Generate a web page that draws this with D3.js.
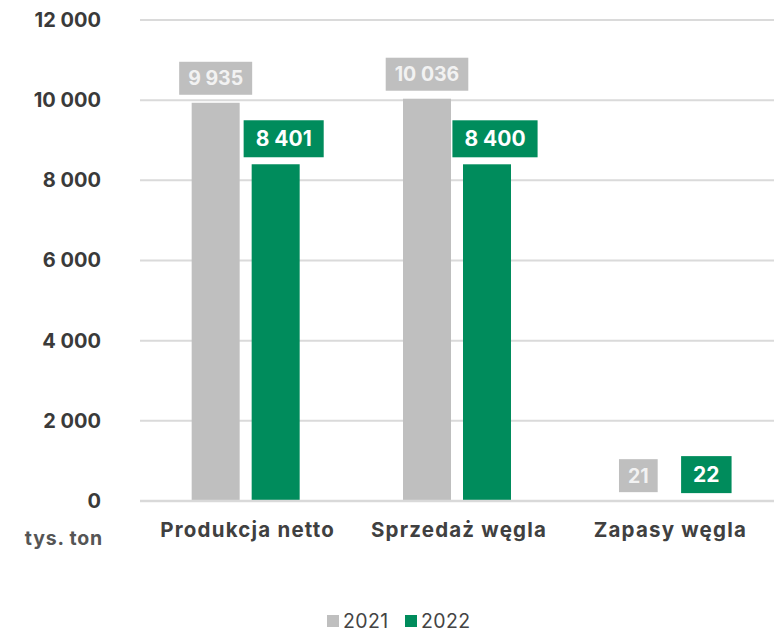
<!DOCTYPE html>
<html>
<head>
<meta charset="utf-8">
<script src="https://cdn.jsdelivr.net/npm/d3@7"></script>
<style>
  html, body { margin: 0; padding: 0; background: #fff; }
  svg { display: block; font-family: Inter, "Open Sans", sans-serif; }
</style>
</head>
<body>
<svg id="chart" width="774" height="633"></svg>
<script>
// Data (thousand tonnes)
const categories = ["Produkcja netto", "Sprzedaż węgla", "Zapasy węgla"];
const seriesNames = ["2021", "2022"];
const values2021 = [9935, 10036, 21];
const values2022 = [8401, 8400, 22];
const yTicks = [0, 2000, 4000, 6000, 8000, 10000, 12000];
const unitLabel = "tys. ton";

const colors = { "2021": "#bfbfbf", "2022": "#008c5c" };
const fmt = v => d3.format(",")(v).replace(/,/g, " ");
const FONT = "Inter, sans-serif";

const svg = d3.select("#chart");
const plot = { left: 140, right: 774, top: 20, bottom: 501 };

const y = d3.scaleLinear().domain([0, 12000]).range([plot.bottom, plot.top]);
const x0 = d3.scaleBand().domain(categories).range([plot.left, plot.right]).padding(0);
const x1 = d3.scaleBand().domain(seriesNames).range([x0.bandwidth() / 2 - 54, x0.bandwidth() / 2 + 54]).paddingInner(0.2);

// Gridlines (the baseline is drawn later, over the bars)
svg.append("g").selectAll("line")
  .data(yTicks.filter(d => d !== 0))
  .join("line")
  .attr("x1", plot.left).attr("x2", plot.right)
  .attr("y1", d => y(d)).attr("y2", d => y(d))
  .attr("stroke", "#dadada").attr("stroke-width", 2);

// Y axis labels
const yAxis = d3.axisLeft(y).tickValues(yTicks).tickFormat(fmt).tickSize(0).tickPadding(0);
const yg = svg.append("g").attr("transform", "translate(101,0)").call(yAxis);
yg.select(".domain").remove();
yg.selectAll("text")
  .attr("font-size", 20).attr("font-weight", 700).attr("fill", "#3a3a3a")
  .attr("font-family", FONT);

// Unit label
svg.append("text")
  .attr("x", 103).attr("y", 545).attr("text-anchor", "end")
  .attr("font-size", 19.5).attr("font-weight", 700).attr("fill", "#555")
  .attr("letter-spacing", 0.8)
  .text(unitLabel);

// Bars
const rows = categories.map((c, i) => ({ cat: c, vals: [
  { s: "2021", v: values2021[i] },
  { s: "2022", v: values2022[i] }
]}));

const groups = svg.append("g").selectAll("g")
  .data(rows).join("g")
  .attr("transform", d => `translate(${x0(d.cat)},0)`);

groups.selectAll("rect.bar")
  .data(d => d.vals).join("rect")
  .attr("class", "bar")
  .attr("x", d => x1(d.s))
  .attr("width", x1.bandwidth())
  .attr("y", d => y(d.v))
  .attr("height", d => y(0) - y(d.v))
  .attr("fill", d => colors[d.s]);

// Baseline
svg.append("line")
  .attr("x1", plot.left).attr("x2", plot.right)
  .attr("y1", y(0)).attr("y2", y(0))
  .attr("stroke", "#d9d9d9").attr("stroke-width", 2.5);

// Value labels in boxes
const labelOffset = { "2021": 0, "2022": 8 };
const labelStyle = {
  "2021": { size: 19.5, pad: 9, h: 33, text: "#f2f2f2", gap: 8 },
  "2022": { size: 21, pad: 12, h: 37, text: "#ffffff", gap: 7 }
};
groups.each(function(row) {
  const g = d3.select(this);
  row.vals.forEach(d => {
    const st = labelStyle[d.s];
    const cx = x1(d.s) + x1.bandwidth() / 2 + labelOffset[d.s];
    const bottom = y(d.v) - st.gap;
    const lg = g.append("g");
    const t = lg.append("text")
      .attr("x", cx).attr("y", bottom - st.h / 2)
      .attr("text-anchor", "middle").attr("dominant-baseline", "central")
      .attr("font-size", st.size).attr("font-weight", 700)
      .attr("fill", st.text)
      .text(fmt(d.v));
    const w = t.node().getComputedTextLength() + st.pad * 2;
    lg.insert("rect", "text")
      .attr("x", cx - w / 2).attr("y", bottom - st.h)
      .attr("width", w).attr("height", st.h)
      .attr("fill", colors[d.s]);
  });
});

// Category labels
const xAxis = d3.axisBottom(x0).tickSize(0).tickPadding(0);
const xg = svg.append("g").attr("transform", `translate(2,${plot.bottom + 21})`).call(xAxis);
xg.select(".domain").remove();
xg.selectAll("text")
  .attr("font-size", 20.5).attr("font-weight", 700).attr("fill", "#404040")
  .attr("letter-spacing", 1.2)
  .attr("font-family", FONT).attr("dy", "0.71em");

// Legend
const legend = svg.append("g").attr("transform", "translate(327,621)");
const legendX = [0, 78];
seriesNames.forEach((s, i) => {
  const lg = legend.append("g").attr("transform", `translate(${legendX[i]},0)`);
  lg.append("rect").attr("x", 0).attr("y", -6).attr("width", 12).attr("height", 12).attr("fill", colors[s]);
  lg.append("text").attr("x", 16).attr("y", 0).attr("dominant-baseline", "central")
    .attr("font-size", 19.5).attr("letter-spacing", 0.4).attr("fill", "#444").text(s);
});
</script>
</body>
</html>
